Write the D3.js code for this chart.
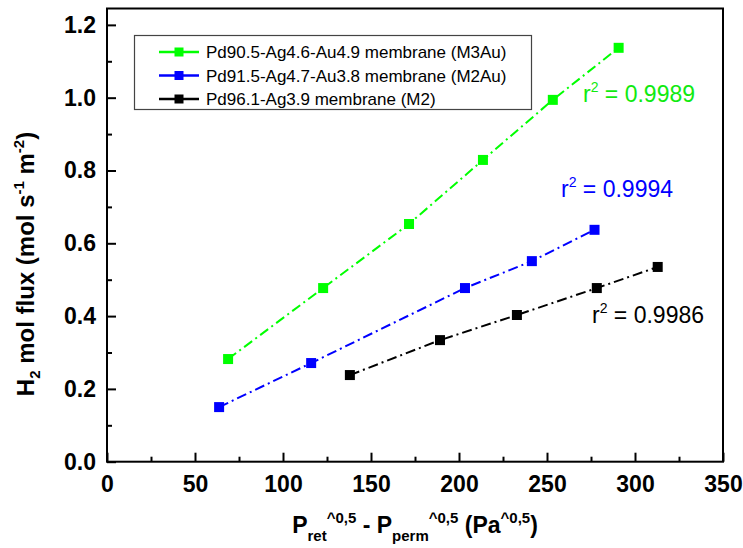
<!DOCTYPE html>
<html>
<head>
<meta charset="utf-8">
<script src="https://cdn.jsdelivr.net/npm/d3@7/dist/d3.min.js"></script>
<style>
  html, body { margin: 0; padding: 0; background: #fff; }
  svg { display: block; font-family: "Liberation Sans", Arial, sans-serif; }
</style>
</head>
<body>
<svg id="chart" width="743" height="548"></svg>
<script>
// Pressure driving force (Pa^0.5) and H2 flux (mol s^-1 m^-2) per membrane
const xM3Au = [68.8, 122.8, 171.6, 213.6, 253.3, 290.7];
const yM3Au = [0.282, 0.477, 0.653, 0.829, 0.994, 1.137];
const xM2Au = [63.7, 116.0, 203.4, 241.4, 277.0];
const yM2Au = [0.150, 0.271, 0.477, 0.551, 0.637];
const xM2 = [138.0, 189.2, 232.9, 278.3, 312.9];
const yM2 = [0.238, 0.334, 0.403, 0.477, 0.535];

const seriesNames = [
  "Pd90.5-Ag4.6-Au4.9 membrane (M3Au)",
  "Pd91.5-Ag4.7-Au3.8 membrane (M2Au)",
  "Pd96.1-Ag3.9 membrane (M2)"
];
const seriesColors = ["#00ff00", "#0000ff", "#000000"];
const r2Values = ["0.9989", "0.9994", "0.9986"];

const xTicks = [0, 50, 100, 150, 200, 250, 300, 350];
const xMinorTicks = [25, 75, 125, 175, 225, 275, 325];
const yTicks = [0.0, 0.2, 0.4, 0.6, 0.8, 1.0, 1.2];
const yMinorTicks = [0.1, 0.3, 0.5, 0.7, 0.9, 1.1];

(function () {
const svg = d3.select("#chart");
const mLeft = 107, mRight = 723, mTop = 8.5, mBottom = 461.7;

const x = d3.scaleLinear().domain([0, 350]).range([mLeft, mRight]);
const y = d3.scaleLinear().domain([0, 1.245]).range([mBottom, mTop]);

// Axes with inward ticks
const xAxis = d3.axisBottom(x).tickValues(xTicks).tickSize(-9).tickPadding(14)
  .tickFormat(d3.format("d"));
const xMinor = d3.axisBottom(x).tickValues(xMinorTicks).tickSize(-5).tickFormat("");
const yAxis = d3.axisLeft(y).tickValues(yTicks).tickSize(-9).tickPadding(11)
  .tickFormat(d3.format(".1f"));
const yMinor = d3.axisLeft(y).tickValues(yMinorTicks).tickSize(-5).tickFormat("");

function styleAxis(g) {
  g.select(".domain").remove();
  g.selectAll(".tick line").attr("stroke", "#000").attr("stroke-width", 2);
  g.selectAll(".tick text")
    .attr("fill", "#000")
    .style("font-family", "'Liberation Sans', Arial, sans-serif")
    .style("font-weight", "bold")
    .style("font-size", "23px");
}

svg.append("g").attr("transform", `translate(0,${mBottom})`).call(xAxis).call(styleAxis);
svg.append("g").attr("transform", `translate(0,${mBottom})`).call(xMinor).call(styleAxis);
svg.append("g").attr("transform", `translate(${mLeft},0)`).call(yAxis).call(styleAxis);
svg.append("g").attr("transform", `translate(${mLeft},0)`).call(yMinor).call(styleAxis);

// Plot frame
svg.append("rect")
  .attr("x", mLeft).attr("y", mTop)
  .attr("width", mRight - mLeft).attr("height", mBottom - mTop)
  .attr("fill", "none").attr("stroke", "#000").attr("stroke-width", 2);

// Series
const series = [
  { xs: xM3Au, ys: yM3Au },
  { xs: xM2Au, ys: yM2Au },
  { xs: xM2, ys: yM2 }
].map((s, i) => ({
  name: seriesNames[i],
  color: seriesColors[i],
  pts: s.xs.map((v, j) => ({ x: v, y: s.ys[j] }))
}));

const line = d3.line().x(d => x(d.x)).y(d => y(d.y));
const ms = 10;

series.forEach(s => {
  svg.append("path")
    .datum(s.pts)
    .attr("d", line)
    .attr("fill", "none")
    .attr("stroke", s.color)
    .attr("stroke-width", 2)
    .attr("stroke-dasharray", "10,4,2,4");
  svg.append("g").selectAll("rect")
    .data(s.pts)
    .join("rect")
    .attr("x", d => x(d.x) - ms / 2)
    .attr("y", d => y(d.y) - ms / 2)
    .attr("width", ms).attr("height", ms)
    .attr("fill", s.color);
});

// r² annotations
const r2Pos = [
  { x: 583, y: 101.5 },
  { x: 561, y: 197 },
  { x: 592, y: 323 }
];
r2Values.forEach((v, i) => {
  const t = svg.append("text")
    .attr("x", r2Pos[i].x).attr("y", r2Pos[i].y)
    .attr("fill", i === 0 ? "#10ea10" : seriesColors[i])
    .style("font-size", "23px");
  t.append("tspan").text("r");
  t.append("tspan").attr("dy", -10).style("font-size", "14px").text("2");
  t.append("tspan").attr("dy", 10).text(" = " + v);
});

// Legend
const lg = svg.append("g");
lg.append("rect")
  .attr("x", 134.5).attr("y", 35.5).attr("width", 397).attr("height", 74)
  .attr("fill", "#fff").attr("stroke", "#444").attr("stroke-width", 1.2);
series.forEach((s, i) => {
  const cy = 52 + i * 23.5;
  lg.append("line")
    .attr("x1", 159).attr("x2", 199).attr("y1", cy).attr("y2", cy)
    .attr("stroke", s.color).attr("stroke-width", 2.5);
  lg.append("rect")
    .attr("x", 174.5).attr("y", cy - 4.5).attr("width", 9).attr("height", 9)
    .attr("fill", s.color);
  lg.append("text")
    .attr("x", 206).attr("y", cy + 6)
    .attr("fill", "#000")
    .style("font-size", "17px")
    .text(s.name);
});

// Axis titles
const yt = svg.append("text")
  .attr("transform", "translate(34,264) rotate(-90)")
  .attr("text-anchor", "middle")
  .attr("fill", "#000")
  .style("font-weight", "bold").style("font-size", "24px");
yt.append("tspan").text("H");
yt.append("tspan").attr("dy", 6).style("font-size", "15px").text("2");
yt.append("tspan").attr("dy", -6).text(" mol flux (mol s");
yt.append("tspan").attr("dy", -10).style("font-size", "15px").text("-1");
yt.append("tspan").attr("dy", 10).text(" m");
yt.append("tspan").attr("dy", -10).style("font-size", "15px").text("-2");
yt.append("tspan").attr("dy", 10).text(")");

const xt = svg.append("text")
  .attr("x", 415).attr("y", 533)
  .attr("text-anchor", "middle")
  .attr("fill", "#000")
  .style("font-weight", "bold").style("font-size", "23px");
xt.append("tspan").text("P");
xt.append("tspan").attr("dy", 8).style("font-size", "15px").text("ret");
xt.append("tspan").attr("dy", -18).style("font-size", "15px").text("^0,5");
xt.append("tspan").attr("dy", 10).text(" - P");
xt.append("tspan").attr("dy", 8).style("font-size", "15px").text("perm");
xt.append("tspan").attr("dy", -18).style("font-size", "15px").text("^0,5");
xt.append("tspan").attr("dy", 10).text(" (Pa");
xt.append("tspan").attr("dy", -10).style("font-size", "15px").text("^0,5");
xt.append("tspan").attr("dy", 10).text(")");
})();
</script>
</body>
</html>
